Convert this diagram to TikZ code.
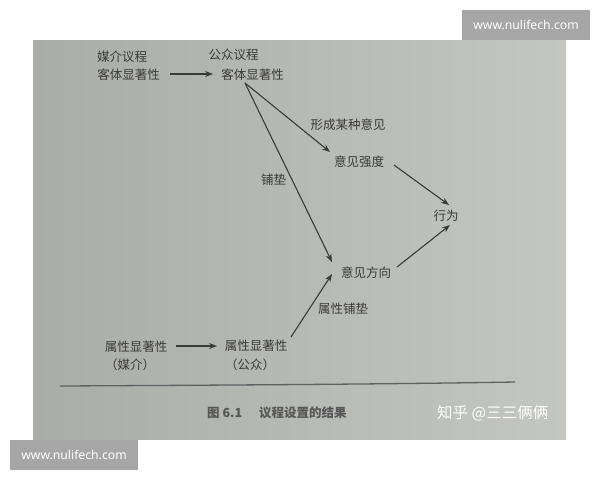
\documentclass[tikz,border=0pt]{standalone}
\usepackage{fontspec}
\usetikzlibrary{arrows.meta,calc}
\newfontfamily\cjk{Noto Sans CJK SC}
\newfontfamily\wmfont{Noto Sans}
\definecolor{pageL}{RGB}{170,172,168}
\definecolor{pageM}{RGB}{202,204,200}
\definecolor{pageR}{RGB}{196,198,194}
\definecolor{ink}{RGB}{58,58,58}
\definecolor{wmbox}{RGB}{166,166,166}
\tikzset{
  lbl/.style={font=\cjk\fontsize{12.5}{14}\selectfont, text=ink, inner sep=0pt},
  captext/.style={font=\cjk\bfseries\fontsize{12.5}{14}\selectfont, text=ink!85, inner sep=0pt},
  arr/.style={draw=ink, line width=1.1pt, -{Stealth[length=8pt,width=6pt]}},
  wmtext/.style={font=\wmfont\fontsize{12.2}{14}\selectfont, text=white, inner sep=0pt},
  wmbg/.style={fill=wmbox, draw=none}
}
\begin{document}
\begin{tikzpicture}[x=1pt,y=-1pt]
\useasboundingbox (0,0) rectangle (600,480);
\fill[white] (0,0) rectangle (600,480);
% page photo
\shade[left color=pageL, middle color=pageM, right color=pageR] (33,40) rectangle (566,439);
% nodes
\node[lbl] (mt)  at (122,57)   {媒介议程};
\node[lbl] (m1)  at (128.5,75) {客体显著性};
\node[lbl] (pt)  at (233.5,55) {公众议程};
\node[lbl] (m2)  at (252.5,75) {客体显著性};
\node[lbl] (xc)  at (348,125)  {形成某种意见};
\node[lbl] (qd)  at (359,162)  {意见强度};
\node[lbl] (pd)  at (273.5,180){铺垫};
\node[lbl] (xw)  at (446,216)  {行为};
\node[lbl] (fx)  at (366,273)  {意见方向};
\node[lbl] (sp)  at (343,309)  {属性铺垫};
\node[lbl] (a1)  at (136,347)  {属性显著性};
\node[lbl] (a1b) at (130,365)  {（媒介）};
\node[lbl] (a2)  at (256,346)  {属性显著性};
\node[lbl] (a2b) at (250,365)  {（公众）};
% connectors
\draw[arr] ([shift={(41.5,-1)}]m1.center) -- ([shift={(-39.5,-1)}]m2.center);
\draw[arr] ([shift={(-7.5,8)}]m2.center) -- ([shift={(-29,-10)}]qd.center);
\draw[arr] ([shift={(-7.5,8)}]m2.center) -- ([shift={(-34,-11)}]fx.center);
\draw[arr] ([shift={(35,3)}]qd.center) -- ([shift={(3,-11)}]xw.center);
\draw[arr] ([shift={(31,-6)}]fx.center) -- ([shift={(4,9)}]xw.center);
\draw[arr] ([shift={(40,-1)}]a1.center) -- ([shift={(-39,0)}]a2.center);
\draw[arr] ([shift={(35,-9)}]a2.center) -- ([shift={(-34,1)}]fx.center);
% rule
\coordinate (rl) at (60,386);
\coordinate (rr) at (515,382);
\draw[ink!80, line width=1.3pt] (rl) .. controls (250,385) and (400,384) .. (rr);
% caption
\node[captext, anchor=west] (c1) at (207,413) {图 6.1};
\node[captext, anchor=west] (c2) at (259,413) {议程设置的结果};
% watermarks
\node[font=\cjk\fontsize{15.5}{17}\selectfont, text=white, inner sep=0pt, anchor=west] (zh) at (437,413) {知乎 @三三俩俩};
\fill[wmbg] (462,10) rectangle (590,40);
\node[wmtext] (w1) at (526,25) {www.nulifech.com};
\fill[wmbg] (10,440) rectangle (138,470);
\node[wmtext] (w2) at (74,455) {www.nulifech.com};
\end{tikzpicture}
\end{document}
